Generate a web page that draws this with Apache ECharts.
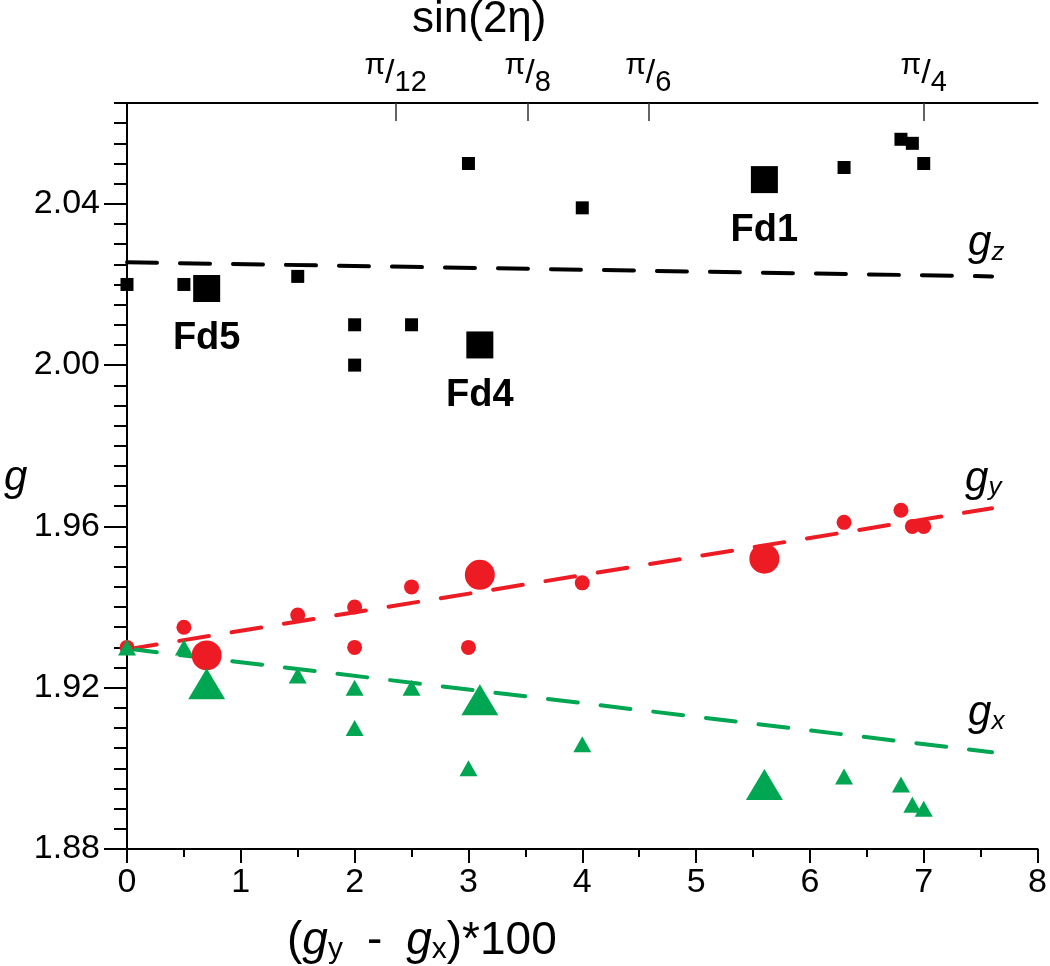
<!DOCTYPE html>
<html>
<head>
<meta charset="utf-8">
<script src="https://cdn.jsdelivr.net/npm/echarts@6/dist/echarts.min.js"></script>
<style>
  html, body { margin: 0; padding: 0; background: #fff; }
  #main { width: 1050px; height: 966px; }
</style>
</head>
<body>
<div id="main"></div>
<script>
"use strict"
// g-tensor data
var sampleX = [0, 0.5, 1.5, 2, 2, 2.5, 3, 4, 6.3, 6.8, 6.9, 7];
var gzVals  = [2.020, 2.020, 2.022, 2.010, 2.000, 2.010, 2.050, 2.039, 2.049, 2.056, 2.055, 2.050];
var gyVals  = [1.930, 1.935, 1.938, 1.940, 1.930, 1.945, 1.930, 1.946, 1.961, 1.964, 1.960, 1.960];
var gxVals  = [1.930, 1.930, 1.923, 1.920, 1.910, 1.920, 1.900, 1.906, 1.898, 1.896, 1.891, 1.890];

// labelled samples (big markers)
var fdNames = ['Fd5', 'Fd4', 'Fd1'];
var fdX     = [0.7, 3.1, 5.6];
var fdGz    = [2.019, 2.005, 2.046];
var fdGy    = [1.928, 1.948, 1.952];
var fdGx    = [1.921, 1.917, 1.896];

// dashed trend lines
var fitX  = [0, 7.6];
var gzFit = [2.0255, 2.022];
var gyFit = [1.9295, 1.9645];
var gxFit = [1.9297, 1.904];

// top axis: sin(2eta)
var etaTickPos = [2.36, 3.52, 4.58, 7.0];
var etaTickDen = ['12', '8', '6', '4'];

// y ticks
var yMajor = [1.88, 1.92, 1.96, 2.00, 2.04];
var yMinor = [];
for (var v = 1.88; v <= 2.0651; v += 0.005) { yMinor.push(+v.toFixed(3)); }

var RED = '#ED1C24', GREEN = '#00A651', FONT = 'Liberation Sans';

function pairs(xs, ys) { return xs.map(function (x, i) { return [x, ys[i]]; }); }

var gRich = {
	g: { fontFamily: FONT, fontStyle: 'italic', fontSize: 42, color: '#000' },
	s: { fontFamily: FONT, fontStyle: 'italic', fontSize: 26, color: '#000', padding: [18, 0, 0, 0] }
};

function fitLine(name, ys, color, sub, off) {
	return {
		name: name, type: 'line', data: pairs(fitX, ys), symbol: 'none', z: 1,
		lineStyle: { color: color, width: 4, type: [30, 23], cap: 'round' },
		endLabel: { show: true, formatter: '{g|g}{s|' + sub + '}', offset: off, rich: gRich },
		animation: false
	};
}

function dots(name, xs, ys, symbol, size, color) {
	return {
		name: name, type: 'scatter', data: pairs(xs, ys), z: 3,
		symbol: symbol, symbolSize: size, itemStyle: { color: color, opacity: 1 }
	};
}

var myChart = echarts.init(document.getElementById('main'));
var option = {
	animation: false,
	backgroundColor: '#fff',
	grid: { left: 127, right: 7, top: 103, bottom: 117 },
	xAxis: [
		{
			type: 'value', min: 0, max: 8, interval: 1, position: 'bottom',
			axisLine: { lineStyle: { color: '#000', width: 2 } },
			axisTick: { length: 14, lineStyle: { color: '#000', width: 2 } },
			minorTick: { show: true, splitNumber: 2, length: 8, lineStyle: { color: '#000', width: 2 } },
			axisLabel: { fontFamily: FONT, fontSize: 34, color: '#000', margin: 17 },
			splitLine: { show: false }
		},
		{
			type: 'value', min: 0, max: 8, position: 'top',
			axisLine: { lineStyle: { color: '#000', width: 2 } },
			axisTick: { inside: true, length: 18, customValues: etaTickPos, lineStyle: { color: '#333', width: 1.5 } },
			axisLabel: {
				customValues: etaTickPos, margin: 6,
				formatter: function (val) {
					var k = 0;
					etaTickPos.forEach(function (p, i) { if (Math.abs(p - val) < 1e-6) k = i; });
					return '{p|π}{l|/}{d|' + etaTickDen[k] + '}';
				},
				rich: {
					p: { fontFamily: FONT, fontSize: 30, lineHeight: 26, verticalAlign: 'top', color: '#000' },
					l: { fontFamily: FONT, fontSize: 34, lineHeight: 46, color: '#000' },
					d: { fontFamily: FONT, fontSize: 29, lineHeight: 26, verticalAlign: 'bottom', color: '#000' }
				}
			},
			splitLine: { show: false }
		}
	],
	yAxis: [
		{
			type: 'value', min: 1.88, max: 2.065, position: 'left',
			axisLine: { lineStyle: { color: '#000', width: 2 } },
			axisTick: { length: 23, customValues: yMajor, lineStyle: { color: '#000', width: 2 } },
			axisLabel: {
				customValues: yMajor, fontFamily: FONT, fontSize: 34, color: '#000', margin: 27,
				formatter: function (val) { return val.toFixed(2); }
			},
			splitLine: { show: false }
		},
		{
			type: 'value', min: 1.88, max: 2.065, position: 'left', offset: 0,
			axisLine: { show: false },
			axisTick: { length: 13, customValues: yMinor, lineStyle: { color: '#000', width: 2 } },
			axisLabel: { show: false },
			splitLine: { show: false }
		}
	],
	graphic: [
		{
			type: 'text', left: 412, top: -2,
			style: { text: 'sin(2η)', fontFamily: FONT, fontSize: 44, fill: '#000' }
		},
		{
			type: 'text', left: 4, top: 457,
			style: { text: 'g', fontFamily: FONT, fontStyle: 'italic', fontSize: 42, fill: '#000' }
		},
		{
			type: 'text', left: 287, top: 918,
			style: {
				text: '{t|(}{g|g}{s|y}{m|-}{g|g}{s|x}{t|)*100}',
				rich: {
					t: { fontFamily: FONT, fontSize: 46, fill: '#000' },
					m: { fontFamily: FONT, fontSize: 46, fill: '#000', padding: [0, 24, 0, 24] },
					g: { fontFamily: FONT, fontSize: 46, fontStyle: 'italic', fill: '#000' },
					s: { fontFamily: FONT, fontSize: 30, fill: '#000', padding: [18, 0, 0, 0] }
				}
			}
		}
	],
	series: [
		fitLine('gz fit', gzFit, '#000', 'z', [-32, -33]),
		fitLine('gy fit', gyFit, RED, 'y', [-35, -29]),
		fitLine('gx fit', gxFit, GREEN, 'x', [-32, -39]),
		dots('gz', sampleX, gzVals, 'rect', 13, '#000'),
		{
			name: 'gz Fd', type: 'scatter', data: pairs(fdX, fdGz), z: 3,
			symbol: 'rect', symbolSize: 27, itemStyle: { color: '#000', opacity: 1 },
			label: {
				show: true, position: 'bottom', distance: 18,
				formatter: function (p) { return fdNames[p.dataIndex]; },
				fontFamily: FONT, fontWeight: 'bold', fontSize: 38, color: '#000'
			}
		},
		dots('gy', sampleX, gyVals, 'circle', 15, RED),
		dots('gy Fd', fdX, fdGy, 'circle', 30, RED),
		dots('gx', sampleX, gxVals, 'triangle', [18, 16], GREEN),
		dots('gx Fd', fdX, fdGx, 'triangle', [37, 31], GREEN)
	]
};

if (option && typeof option === "object") {
	myChart.setOption(option, true);
}
</script>
</body>
</html>
